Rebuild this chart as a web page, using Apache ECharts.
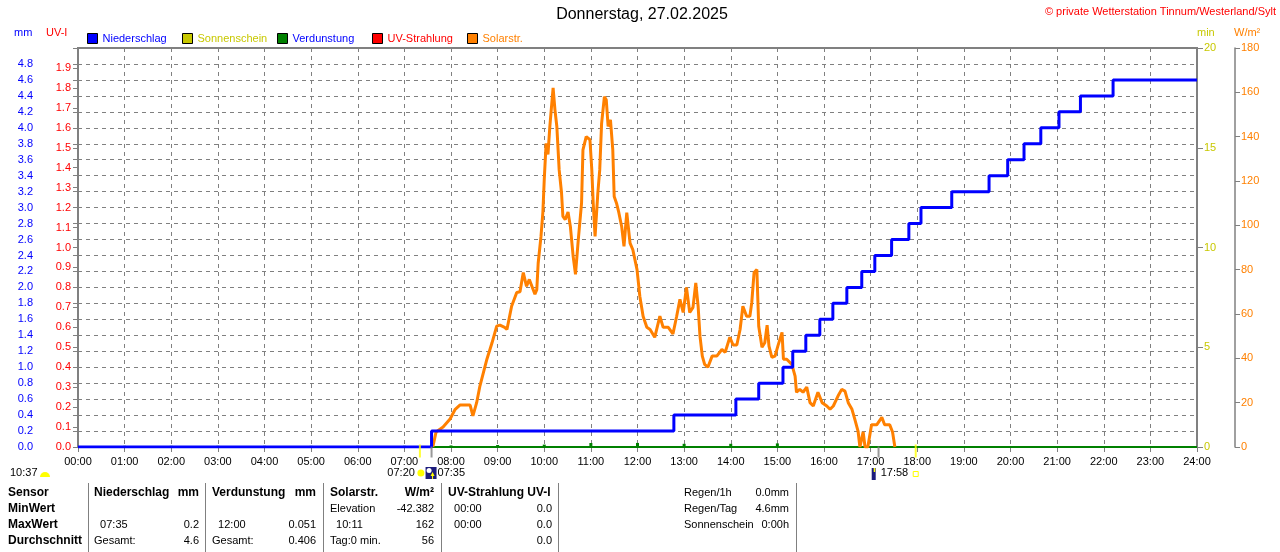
<!DOCTYPE html>
<html><head><meta charset="utf-8">
<script src="https://cdn.jsdelivr.net/npm/echarts@6/dist/echarts.min.js"></script>
<style>html,body{margin:0;padding:0;background:#fff}#c{width:1280px;height:552px}</style>
</head><body><div id="c"></div><script>
// ---------- DATA ----------
const titleText = 'Donnerstag, 27.02.2025';
const copyrightText = '\u00a9 private Wetterstation Tinnum/Westerland/Sylt';

// cumulative precipitation (mm): time (h) at which value is reached
const rainTimes  = [0, 7.583, 12.78, 14.11, 14.6, 15.12, 15.33, 15.61, 15.91, 16.19, 16.49, 16.81, 17.09, 17.45, 17.82, 18.08, 18.74, 19.54, 19.94, 20.29, 20.65, 21.04, 21.5, 22.2, 24];
const rainValues = [0, 0.2, 0.4, 0.6, 0.8, 1.0, 1.2, 1.4, 1.6, 1.8, 2.0, 2.2, 2.4, 2.6, 2.8, 3.0, 3.2, 3.4, 3.6, 3.8, 4.0, 4.2, 4.4, 4.6, 4.6];

// solar radiation (W/m2)
const solarTimes = [7.61,7.68,7.83,7.98,8.09,8.19,8.41,8.47,8.55,8.62,8.77,8.88,8.98,9.05,9.15,9.2,9.3,9.41,9.48,9.55,9.62,9.68,9.8,9.84,9.87,9.93,9.97,10.0,10.04,10.08,10.12,10.19,10.23,10.27,10.32,10.37,10.4,10.45,10.51,10.56,10.62,10.67,10.73,10.8,10.83,10.9,10.98,11.02,11.05,11.09,11.15,11.19,11.23,11.29,11.33,11.37,11.42,11.47,11.5,11.55,11.6,11.66,11.71,11.77,11.84,11.9,11.99,12.05,12.12,12.2,12.27,12.37,12.48,12.55,12.66,12.76,12.84,12.91,12.98,13.05,13.12,13.19,13.25,13.3,13.34,13.39,13.44,13.51,13.6,13.7,13.81,13.88,13.98,14.05,14.13,14.2,14.26,14.34,14.41,14.45,14.5,14.56,14.6,14.67,14.73,14.78,14.82,14.88,14.95,15.01,15.1,15.13,15.2,15.31,15.38,15.41,15.48,15.55,15.63,15.7,15.77,15.87,15.96,16.06,16.13,16.2,16.3,16.38,16.45,16.52,16.6,16.66,16.73,16.77,16.84,16.88,16.94,17.02,17.13,17.24,17.3,17.41,17.47,17.52];
const solarValues = [0,6.8,9,12.6,17,18.9,18.9,14,20,27.5,39.6,47,54.5,55,54,53,63.5,69.7,70,78.7,72.5,75.6,68.9,71,83,95,105.7,120.6,137,132,144.6,162,152,144.6,125,114.8,104,102.6,106,99.5,86,77.9,93.6,110,134,140,138.6,125,110,95,114.8,125,146,158,156.6,144.6,147.6,134,113,110,105.7,99.5,90.5,105.7,92,89,80,68,59,54,53,49.5,59,54,54,51,59,66.6,60.7,72,60.7,63,74,63.5,50,41,37.3,36,41,41,44,42.7,49.5,46,46,53,63.5,59,59,65,78.7,80,54.5,45,47,55,45.5,40.5,41,45.5,51.7,39.6,39.6,37.3,32,24.7,26,24.7,27,20,18.5,24.7,20,18.5,17,18.5,23,26,25.2,20,17,12.6,7.2,0,6.8,0,0,10,10,13.4,10,10,6.8,0];

// hourly evaporation (mm)
const evapHours  = [1,2,3,4,5,6,7,8,9,10,11,12,13,14,15];
const evapValues = [0.015,0.015,0.015,0.015,0.015,0.015,0.015,0.02,0.025,0.03,0.05,0.051,0.04,0.04,0.045];
const evapSpan = [0, 24];

// UV index
const uvTimes  = [0, 24];
const uvValues = [0, 0];

// sunshine minutes (none)
const sunTimes = [];
const sunValues = [];

// sunrise / sunset and event markers (hours)
const sunriseSunset = [7.333, 17.967];
const eventMarks = [7.583, 17.17];
const sunriseLabel = '07:20', firstEventLabel = '07:35', sunsetLabel = '17:58', dayLength = '10:37';

// table
const tableRows = [
  ['Sensor','Niederschlag','mm','Verdunstung','mm','Solarstr.','W/m\u00b2','UV-Strahlung UV-I',''],
  ['MinWert','','','','','Elevation','-42.382','  00:00','0.0'],
  ['MaxWert','  07:35','0.2','  12:00','0.051','  10:11','162','  00:00','0.0'],
  ['Durchschnitt','Gesamt:','4.6','Gesamt:','0.406','Tag:0 min.','56','','0.0']
];
const infoRows = [['Regen/1h','0.0mm'],['Regen/Tag','4.6mm'],['Sonnenschein','0:00h']];

// ---------- CHART ----------
const FONT = 'Liberation Sans, Arial, sans-serif';
const GRAY = '#808080';
const chart = echarts.init(document.getElementById('c'));
const pad = n => (n < 10 ? '0' : '') + n;
const zip = (a, b) => a.map((t, i) => [t, b[i]]);

function legendFor(name, left, color) {
  return {left: left, top: 33, padding: 0, itemWidth: 10, itemHeight: 10, itemGap: 0, icon: 'rect',
    data: [name], selectedMode: false,
    itemStyle: {borderColor: '#000', borderWidth: 1},
    textStyle: {color: color, fontSize: 11, fontFamily: FONT}};
}

const option = {
  animation: false,
  backgroundColor: '#fff',
  textStyle: {fontFamily: FONT},
  grid: {left: 78, right: 83, top: 48, bottom: 105, show: true, borderColor: GRAY, borderWidth: 2},
  legend: [
    legendFor('Niederschlag', 87, '#0000ff'),
    legendFor('Sonnenschein', 182, '#c8c800'),
    legendFor('Verdunstung', 277, '#0000ff'),
    legendFor('UV-Strahlung', 372, '#ff0000'),
    legendFor('Solarstr.', 467, '#ff8000')
  ],
  xAxis: {
    type: 'value', min: 0, max: 24, interval: 1,
    axisLine: {lineStyle: {color: GRAY, width: 2}},
    axisTick: {length: 5, lineStyle: {color: GRAY}},
    axisLabel: {color: '#000', fontSize: 11, margin: 9, formatter: v => pad(v) + ':00'},
    splitLine: {show: true, lineStyle: {color: GRAY, type: [4, 4], width: 1}}
  },
  yAxis: [
    {type: 'value', position: 'left', offset: 38, min: 0, max: 5, interval: 0.2,
      axisLine: {show: true, lineStyle: {color: GRAY, width: 1}},
      axisTick: {show: true, length: 5, lineStyle: {color: GRAY}},
      axisLabel: {color: '#0000ff', fontSize: 11, margin: 7, formatter: v => v > 4.85 ? '' : v.toFixed(1)},
      splitLine: {show: true, lineStyle: {color: GRAY, type: [4, 4], width: 1}}},
    {type: 'value', position: 'left', offset: 0, min: 0, max: 2, interval: 0.1,
      axisLine: {show: true, lineStyle: {color: GRAY, width: 2}},
      axisTick: {show: true, length: 5, lineStyle: {color: GRAY}},
      axisLabel: {color: '#ff0000', fontSize: 11, margin: 7, formatter: v => v > 1.95 ? '' : v.toFixed(1)},
      splitLine: {show: false}},
    {type: 'value', position: 'right', offset: 0, min: 0, max: 20, interval: 5,
      axisLine: {show: true, lineStyle: {color: GRAY, width: 2}},
      axisTick: {show: true, length: 6, lineStyle: {color: GRAY}},
      axisLabel: {color: '#c8c800', fontSize: 11, margin: 7},
      splitLine: {show: false}},
    {type: 'value', position: 'right', offset: 38, min: 0, max: 180, interval: 20,
      axisLine: {show: true, lineStyle: {color: GRAY, width: 1.5}},
      axisTick: {show: true, length: 5, lineStyle: {color: GRAY}},
      axisLabel: {color: '#ff8000', fontSize: 11, margin: 6},
      splitLine: {show: false}}
  ],
  series: [
    {name: 'UV-Strahlung', type: 'line', yAxisIndex: 1, data: zip(uvTimes, uvValues), showSymbol: false,
      itemStyle: {color: '#ff0000'}, lineStyle: {color: '#ff0000', width: 2}, z: 1},
    {name: 'Verdunstung', type: 'line', yAxisIndex: 0, data: evapSpan.map(t => [t, 0]), showSymbol: false,
      itemStyle: {color: '#008000'}, lineStyle: {color: '#008000', width: 2}, z: 2},
    {name: 'Verdunstung', type: 'bar', yAxisIndex: 0, data: zip(evapHours, evapValues), barWidth: 3,
      itemStyle: {color: '#008000'}, z: 2},
    {name: 'Sonnenschein', type: 'line', yAxisIndex: 2, data: zip(sunTimes, sunValues), showSymbol: false,
      itemStyle: {color: '#c8c800'}, lineStyle: {color: '#c8c800', width: 2}},
    {name: 'Solarstr.', type: 'line', yAxisIndex: 3, data: zip(solarTimes, solarValues), showSymbol: false,
      itemStyle: {color: '#ff8000'}, lineStyle: {color: '#ff8000', width: 3}, z: 3},
    {name: 'Niederschlag', type: 'line', step: 'end', yAxisIndex: 0, data: zip(rainTimes, rainValues), showSymbol: false,
      itemStyle: {color: '#0000ff'}, lineStyle: {color: '#0000ff', width: 3}, z: 4},
    {name: 'sunmarks', type: 'scatter', yAxisIndex: 0, clip: false, data: sunriseSunset.map(t => [t, 0]),
      symbol: 'rect', symbolSize: [2, 13], symbolOffset: [0, 4], itemStyle: {color: '#ffff00'}, z: 5, silent: true},
    {name: 'eventmarks', type: 'scatter', yAxisIndex: 0, clip: false, data: eventMarks.map(t => [t, 0]),
      symbol: 'rect', symbolSize: [2, 11], symbolOffset: [0, 5], itemStyle: {color: GRAY}, z: 5, silent: true}
  ]
};
chart.setOption(option);

// ---------- annotations ----------
const g = [];
const txt = (x, y, s, o) => g.push(Object.assign({type: 'text', x: x, y: y,
  style: Object.assign({text: s, fontSize: 11, fontFamily: FONT, fill: '#000', textVerticalAlign: 'middle'}, o || {})}));

txt(642, 15, titleText, {fontSize: 16, textAlign: 'center'});
txt(1276, 12, copyrightText, {fill: '#ff0000', textAlign: 'right'});
txt(14, 33, 'mm', {fill: '#0000ff'});
txt(46, 33, 'UV-I', {fill: '#ff0000'});
txt(1197, 33, 'min', {fill: '#c8c800'});
txt(1234, 33, 'W/m\u00b2', {fill: '#ff8000'});

// day length
txt(10, 473, dayLength);
g.push({type: 'sector', shape: {cx: 45, cy: 477, r0: 0, r: 5, startAngle: Math.PI, endAngle: 2 * Math.PI}, style: {fill: '#ffff00'}});

const px = t => chart.convertToPixel({xAxisIndex: 0}, t);
const xr = px(sunriseSunset[0]), xe = px(eventMarks[0]), xs = px(sunriseSunset[1]);
txt(xr - 5, 473, sunriseLabel, {textAlign: 'right'});
g.push({type: 'circle', shape: {cx: xr + 1, cy: 473, r: 3.5}, style: {fill: '#ffff00'}});
g.push({type: 'rect', shape: {x: xe - 6, y: 467, width: 11, height: 12}, style: {fill: '#1c1c7c'}});
g.push({type: 'circle', shape: {cx: xe - 2.5, cy: 470.5, r: 2.5}, style: {fill: '#ffffff'}});
g.push({type: 'polygon', shape: {points: [[xe + 1, 472], [xe - 1, 476], [xe + 3, 476]]}, style: {fill: '#ffff00'}});
g.push({type: 'rect', shape: {x: xe + 0.5, y: 475, width: 1, height: 4}, style: {fill: '#ffff00'}});
txt(xe + 6, 473, firstEventLabel);

g.push({type: 'rect', shape: {x: xs - 44, y: 468, width: 4, height: 12}, style: {fill: '#1c1c7c'}});
g.push({type: 'rect', shape: {x: xs - 42, y: 468, width: 1.5, height: 4}, style: {fill: '#ffff00'}});
txt(xs - 35, 473, sunsetLabel);
g.push({type: 'rect', shape: {x: xs - 2.5, y: 471.5, width: 5, height: 5}, style: {fill: 'none', stroke: '#ffff00', lineWidth: 1}});

// table
const colX = [8, 94, 199, 212, 316, 330, 434, 448, 552];
const colAlign = ['left','left','right','left','right','left','right','left','right'];
const rowY = [493, 509, 525, 541];
tableRows.forEach((row, r) => row.forEach((cell, c) => {
  if (!cell) return;
  const bold = r === 0 || c === 0;
  txt(colX[c], rowY[r], cell, {textAlign: colAlign[c], fontWeight: bold ? 'bold' : 'normal', fontSize: bold ? 12 : 11});
}));
infoRows.forEach((row, r) => {
  txt(684, rowY[r], row[0]);
  txt(789, rowY[r], row[1], {textAlign: 'right'});
});
[88, 205, 323, 441, 558, 796].forEach(x => g.push({type: 'line', shape: {x1: x + 0.5, y1: 483, x2: x + 0.5, y2: 552}, style: {stroke: GRAY, lineWidth: 1}}));

chart.setOption({graphic: g});
</script></body></html>
